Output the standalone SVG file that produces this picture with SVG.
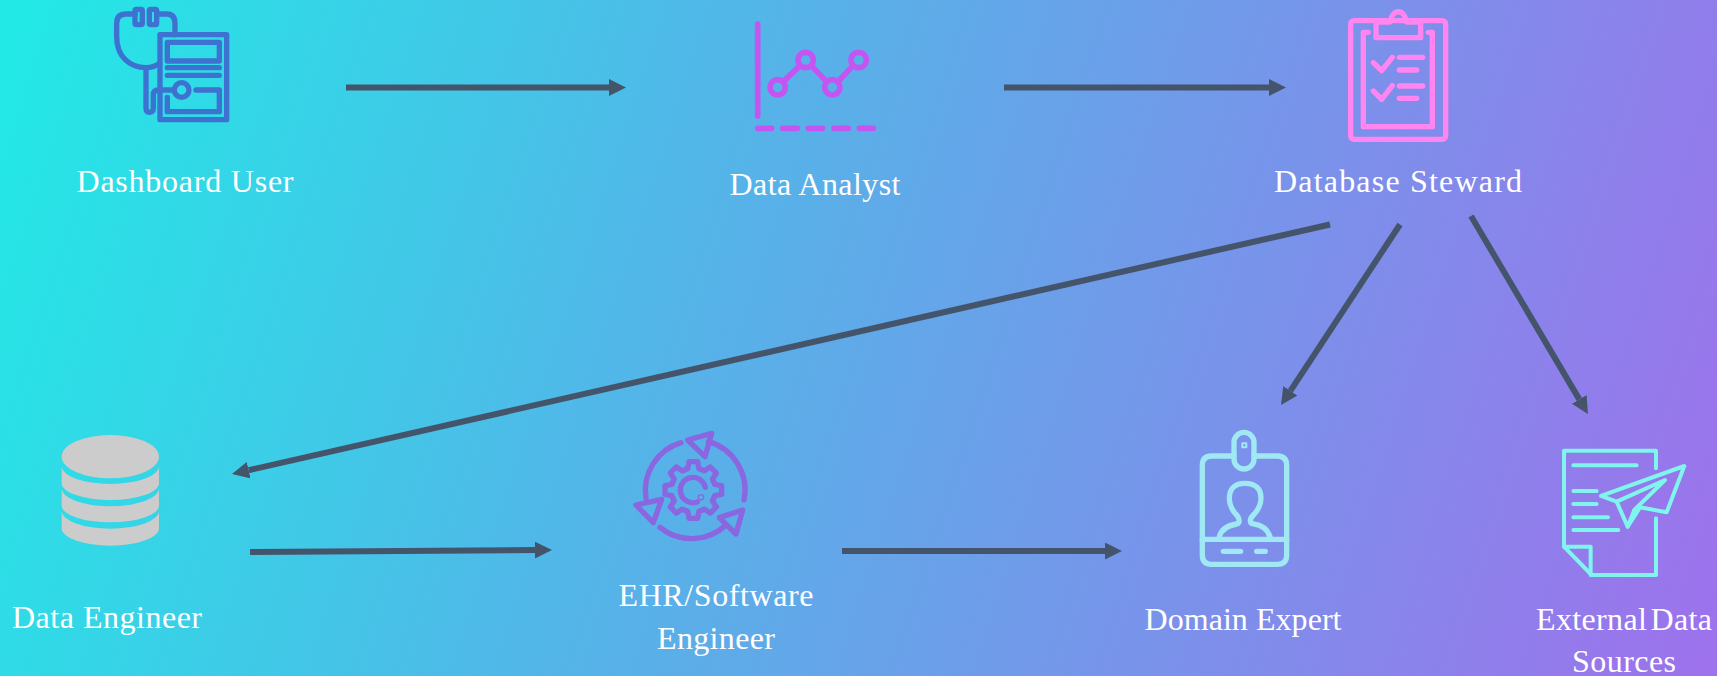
<svg xmlns="http://www.w3.org/2000/svg" xmlns:xlink="http://www.w3.org/1999/xlink" width="1717" height="676" viewBox="0 0 1717 676">
<style>
text{font-family:"Liberation Serif","Times New Roman",serif;font-size:32px;fill:#fff;text-anchor:middle}
.ic{fill:none;stroke-width:16;stroke-linecap:round;stroke-linejoin:round}
.c{fill:none;stroke:#44546A;stroke-width:6;marker-end:url(#ah)}
</style>
<defs>
<linearGradient id="bg" gradientUnits="userSpaceOnUse" x1="0" y1="60" x2="1717" y2="616">
<stop offset="0" stop-color="#22E9E6"/><stop offset=".36" stop-color="#4FB9E8"/><stop offset="1" stop-color="#9D72EC"/>
</linearGradient>
<marker id="ah" markerUnits="userSpaceOnUse" markerWidth="18" markerHeight="18" refX="0" refY="8.5" orient="auto"><path d="M0 0L17 8.5L0 17Z" fill="#44546A"/></marker>
<path id="t" d="M-25.3 -61L-17 -64L-13 -85L13 -85L17 -64L25.3 -61"/>
</defs>
<rect width="1717" height="676" fill="url(#bg)"/>
<g id="connectors">
<path class="c" d="M346 87.6H609"/>
<path class="c" d="M1004 87.6H1269"/>
<path class="c" d="M1330 224.5L248.6 470.2"/>
<path class="c" d="M1400 224.5L1290.4 390.8"/>
<path class="c" d="M1471 216L1579.3 399.4"/>
<path class="c" d="M250 552L535 550.1"/>
<path class="c" d="M842 551H1105"/>
</g>
<g id="dashboard-user">
<g class="ic" stroke="#3E72D0" transform="translate(90 0) scale(.3333)">
<rect x="210" y="104" width="200" height="255"/>
<rect x="232" y="127" width="156" height="56"/>
<path d="M232 203H388M232 226H388"/>
<circle cx="275" cy="270" r="22"/>
<path d="M318 270H388V335H232V292"/>
<path d="M253 270H205Q190 270 190 285V325Q190 337 178 337Q168 337 168 325V205"/>
<path d="M135 42H108Q80 42 80 70V110C80 170 120 203 168 203Q190 203 208 190"/>
<path d="M205 42H230Q255 42 255 70V104"/>
<rect x="135" y="28" width="22" height="46" rx="4"/>
<rect x="178" y="28" width="22" height="46" rx="4"/>
</g>
<text x="185" y="192" textLength="217">Dashboard User</text>
</g>
<g id="data-analyst">
<g class="ic" stroke="#C455F0" transform="translate(740 10) scale(.3333)" style="stroke-width:17">
<path d="M53 42V318"/>
<path d="M133 212L177 170M217 170L257 212M297 212L336 170"/>
<circle cx="113" cy="232" r="23"/><circle cx="197" cy="150" r="23"/><circle cx="277" cy="232" r="23"/><circle cx="356" cy="150" r="23"/>
<path d="M53 355H95M128 355H172M205 355H248M282 355H325M358 355H400"/>
</g>
<text x="815" y="195" textLength="171">Data Analyst</text>
</g>
<g id="database-steward">
<g class="ic" stroke="#FF85F0" transform="translate(1330 0) scale(.3333)">
<rect x="62" y="62" width="285" height="356" rx="10"/>
<path d="M115 97H100V380H307V97H295"/>
<path d="M138 66V113H272V66H230C222 25 188 25 180 66Z"/>
<path d="M130 188L155 212L187 172M130 273L155 298L187 257"/>
<path d="M208 172H278M208 210H260M208 258H278M208 295H260"/>
</g>
<text x="1398" y="192" textLength="248">Database Steward</text>
</g>
<g id="data-engineer">
<g fill="#CCCCCC" transform="translate(40 420) scale(.3333)">
<ellipse cx="211" cy="110" rx="146" ry="65"/>
<path d="M65 138A146 54 0 0 0 357 138V190A146 50 0 0 1 65 190Z"/>
<path d="M65 205A146 54 0 0 0 357 205V257A146 50 0 0 1 65 257Z"/>
<path d="M65 272A146 54 0 0 0 357 272V325A146 52 0 0 1 65 325Z"/>
</g>
<text x="107" y="628" textLength="190">Data Engineer</text>
</g>
<g id="ehr-software-engineer">
<g class="ic" stroke="#8A66E0" transform="translate(620 420) scale(.3333)">
<path d="M183 68A150 150 0 0 0 78 235"/>
<path d="M120 322A150 150 0 0 0 318 315"/>
<path d="M265 65A150 150 0 0 1 372 240"/>
<path d="M275 40L203 60L255 110Z"/>
<path d="M48 255L125 238L100 308Z"/>
<path d="M368 270L298 293L348 342Z"/>
<g transform="translate(220 210)">
<use xlink:href="#t"/><use xlink:href="#t" transform="rotate(45)"/><use xlink:href="#t" transform="rotate(90)"/><use xlink:href="#t" transform="rotate(135)"/><use xlink:href="#t" transform="rotate(180)"/><use xlink:href="#t" transform="rotate(225)"/><use xlink:href="#t" transform="rotate(270)"/><use xlink:href="#t" transform="rotate(315)"/>
<path d="M12 36A38 38 0 1 1 36 -8"/>
</g>
<circle cx="243" cy="232" r="2"/>
</g>
<text x="716" y="606" textLength="195">EHR/Software</text>
<text x="716" y="649" textLength="118">Engineer</text>
</g>
<g id="domain-expert">
<g class="ic" stroke="#9FE8F4" transform="translate(1180 420) scale(.3333)">
<path d="M162 108H95Q67 108 67 136V405Q67 433 95 433H292Q320 433 320 405V136Q320 108 292 108H222"/>
<rect x="162" y="37" width="60" height="110" rx="30"/>
<rect x="187" y="70" width="12" height="12" style="stroke-width:6"/>
<path d="M67 358H320"/>
<path d="M130 394H182M230 394H256" style="stroke-width:16"/>
<path d="M118 350C125 325 150 315 170 312C180 310 180 295 170 285C155 270 148 250 148 235C148 205 165 190 195 190C225 190 243 205 243 235C243 250 235 270 220 285C208 297 208 310 220 312C240 315 262 325 270 350"/>
</g>
<text x="1243" y="630" textLength="197">Domain Expert</text>
</g>
<g id="external-data-sources">
<g class="ic" stroke="#7FF5EE" style="stroke-width:12" transform="translate(1540 430) scale(.3333)">
<path d="M348 265V435H155L72 350V62H348V115"/>
<path d="M72 350H152V435"/>
<path d="M100 106H290M100 183H170M100 222H170M100 262H204M100 300H235"/>
<path d="M433 108L183 198L230 215L263 290L283 240L300 232L380 247Z"/>
<path d="M230 215L375 150L283 240"/>
<path d="M263 290L300 232"/>
</g>
<text x="1624" y="630" textLength="176" style="word-spacing:-5px">External Data</text>
<text x="1624" y="672" textLength="104">Sources</text>
</g>
</svg>
